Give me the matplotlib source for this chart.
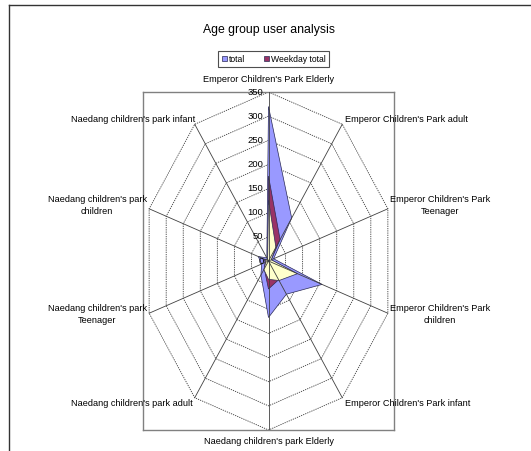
import numpy as np
import matplotlib
matplotlib.use('Agg')
import matplotlib.pyplot as plt
from matplotlib.lines import Line2D
from matplotlib.patches import Polygon

plt.rcParams['font.family'] = ['Liberation Sans', 'DejaVu Sans']

# categories, clockwise from the top
categories = ["Emperor Children's Park Elderly",
              "Emperor Children's Park adult",
              "Emperor Children's Park\nTeenager",
              "Emperor Children's Park\nchildren",
              "Emperor Children's Park infant",
              "Naedang children's park Elderly",
              "Naedang children's park adult",
              "Naedang children's park\nTeenager",
              "Naedang children's park\nchildren",
              "Naedang children's park infant"]
total = [320, 110, 15, 157, 85, 117, 36, 20, 30, 8]
weekday_total = [176, 55, 8, 75, 48, 58, 20, 10, 12, 4]
weekend_total = [126, 35, 8, 85, 50, 38, 22, 8, 10, 4]
ticks = [0, 50, 100, 150, 200, 250, 300, 350]
rmax = 350

W, H = 531, 451
fig = plt.figure(figsize=(W/100, H/100), dpi=100)

# outer chart frame (runs off the right and bottom edges)
fig.add_artist(Line2D([9/W, 1], [1-5/H, 1-5/H], color='#333333', lw=1))
fig.add_artist(Line2D([9/W, 9/W], [1-5/H, 0], color='#333333', lw=1))

fig.text(269/W, 1-30/H, 'Age group user analysis', ha='center', va='center', fontsize=8.8)

# plot area
ax = fig.add_axes([143/W, 1-430/H, 251/W, 338/H])
ax.set_xlim(-rmax, rmax)
ax.set_ylim(-rmax, rmax)
ax.set_xticks([])
ax.set_yticks([])
for s in ax.spines.values():
    s.set_color('#808080')
    s.set_linewidth(1)

n = len(categories)
ang = np.arange(n) * 2*np.pi/n
sx, cy = np.sin(ang), np.cos(ang)

# rings (dotted) behind the series
for r in ticks[1:]:
    ax.add_patch(Polygon(np.column_stack([r*sx, r*cy]), closed=True, fill=False,
                         ec='#3a3a3a', lw=0.6, ls=(0, (1.5, 1.2)), zorder=1))

def poly(vals, fc, lab):
    v = np.array(vals, dtype=float)
    p = Polygon(np.column_stack([v*sx, v*cy]), closed=True, fc=fc, ec='#2a2a55',
                lw=0.5, zorder=2, label=lab)
    ax.add_patch(p)
    return p

p1 = poly(total, '#9999FF', 'total')
p2 = poly(weekday_total, '#993366', 'Weekday total')
p3 = poly(weekend_total, '#FFFFCC', 'Weekend total')

# spokes on top
for a, b in zip(sx, cy):
    ax.plot([0, rmax*a], [0, rmax*b], color='#404040', lw=0.6, zorder=3)

# value labels along the top spoke
for t in ticks:
    ax.annotate(str(t), (0, t), xytext=(-5, 0), textcoords='offset pixels',
                ha='right', va='center', fontsize=6.8, zorder=4)

# category labels
offs = [(0, 13, 'center'), (3, 5, 'left'), (52, 3, 'center'), (52, -1, 'center'),
        (3, -6, 'left'), (0, -12, 'center'), (-2, -6, 'right'), (-52, -1, 'center'),
        (-52, 3, 'center'), (1, 5, 'right')]
for i, lab in enumerate(categories):
    dx, dy, ha = offs[i]
    ax.annotate(lab, (rmax*sx[i], rmax*cy[i]), xytext=(dx, dy), textcoords='offset pixels',
                ha=ha, va='center', fontsize=6.6, multialignment='center',
                linespacing=1.45, annotation_clip=False)

leg = fig.legend(handles=[p1, p2], loc='center', bbox_to_anchor=(273.5/W, 1-59/H),
                 ncol=2, fontsize=6.2, frameon=True, fancybox=False, handlelength=0.6,
                 handleheight=0.6, handletextpad=0.2, columnspacing=2.2,
                 borderpad=0.45, borderaxespad=0)
leg.get_frame().set_edgecolor('#222222')
leg.get_frame().set_linewidth(0.8)

fig.savefig('out.png', dpi=100)
